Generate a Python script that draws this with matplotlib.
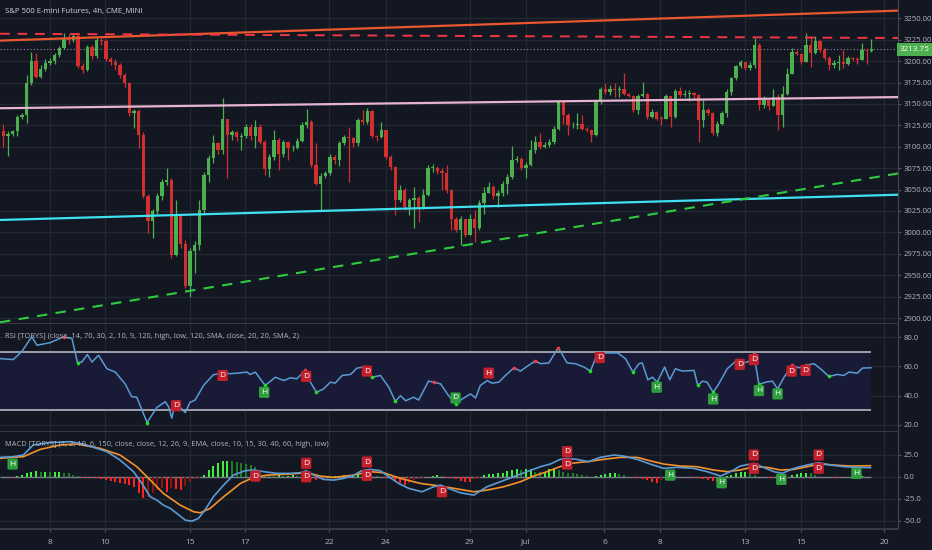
import numpy as np
import matplotlib
matplotlib.use("Agg")
import matplotlib.pyplot as plt
import matplotlib.transforms as mtransforms

plt.rcParams['font.family'] = ['Open Sans', 'DejaVu Sans']

# colours (TradingView dark)
BG = '#131722'
GRID = '#242833'
TXT = '#b2b5be'
UP = '#4caf50'
DOWN = '#d32f2f'

# ---- price data (4h bars), open = previous close
first_open = 3118
closes = [
    3112, 3115, 3118, 3135, 3137, 3174, 3200, 3182, 3191, 3198,
    3200, 3207, 3215, 3227, 3225, 3229, 3194, 3190, 3217, 3206,
    3225, 3223, 3203, 3199, 3196, 3184, 3174, 3139, 3142, 3114,
    3042, 3013, 3025, 3042, 3059, 3061, 2974, 3022, 2987, 2937,
    2978, 2985, 3026, 3067, 3087, 3104, 3096, 3132, 3114, 3117,
    3111, 3113, 3123, 3112, 3123, 3106, 3074, 3088, 3108, 3092,
    3105, 3098, 3099, 3107, 3125, 3129, 3079, 3057, 3066, 3069,
    3088, 3084, 3104, 3111, 3110, 3104, 3131, 3129, 3142, 3112,
    3111, 3120, 3088, 3076, 3038, 3050, 3030, 3038, 3040, 3030,
    3044, 3075, 3075.5, 3072, 3069, 3050, 3016, 3003, 3016, 2997,
    3016, 3005, 3034, 3046, 3053, 3042, 3046, 3057, 3065, 3085,
    3086, 3075, 3079, 3096, 3106, 3100, 3102, 3106, 3121, 3153,
    3137, 3125, 3125.5, 3127, 3121, 3119, 3114, 3153, 3167, 3164,
    3167, 3166, 3168, 3162, 3159, 3143, 3159, 3162, 3135, 3141,
    3133, 3132.5, 3159, 3135, 3165, 3160, 3162, 3163, 3160, 3131,
    3143, 3139, 3116, 3127, 3139, 3164, 3180, 3194, 3199, 3192,
    3196, 3219, 3149, 3155, 3148, 3158, 3137, 3162, 3185, 3211,
    3208, 3199, 3219, 3209, 3223, 3213, 3204, 3196, 3198, 3199,
    3197, 3204, 3202, 3201, 3213, 3212, 3213.75,
]
highs = [
    3126, 3118, 3120, 3137, 3140, 3184, 3211, 3209, 3195, 3202,
    3204, 3210, 3218, 3233, 3232, 3233, 3233, 3198, 3219, 3219,
    3228, 3227, 3226, 3205, 3202, 3198, 3186, 3176, 3144, 3144,
    3117, 3045, 3027, 3046, 3062, 3075, 3063, 3038, 3022, 2991,
    2982, 2990, 3038, 3070, 3090, 3114, 3106, 3157, 3133, 3120,
    3118, 3116, 3127, 3126, 3131, 3126, 3108, 3091, 3120, 3110,
    3108, 3107, 3102, 3110, 3129, 3144, 3131, 3104, 3069, 3072,
    3092, 3090, 3107, 3114, 3123, 3111, 3134, 3143, 3145, 3143,
    3114, 3129, 3120, 3090, 3078, 3055, 3052, 3040, 3053, 3042,
    3051, 3079, 3080, 3077, 3075, 3079, 3051, 3018, 3019, 3016,
    3022, 3026, 3038, 3053, 3059, 3055, 3049, 3060, 3068, 3101,
    3089, 3088, 3082, 3108, 3112, 3116, 3106, 3109, 3124, 3155,
    3155, 3139, 3129, 3139, 3137, 3123, 3121, 3155, 3170, 3174,
    3172, 3174, 3171, 3186, 3163, 3160, 3162, 3176, 3163, 3144,
    3142, 3136, 3162, 3159, 3168, 3170, 3166, 3166, 3164, 3162,
    3155, 3145, 3141, 3130, 3142, 3167, 3182, 3196, 3201, 3199,
    3199, 3227, 3221, 3159, 3157, 3168, 3162, 3171, 3192, 3215,
    3213, 3210, 3233, 3229, 3229, 3225, 3215, 3206, 3201, 3207,
    3213, 3206, 3205, 3205, 3221, 3215, 3226,
]
lows = [
    3100, 3089, 3113, 3112, 3133, 3128, 3172, 3180, 3180, 3188,
    3195, 3197, 3205, 3214, 3220, 3222, 3192, 3186, 3188, 3203,
    3204, 3219, 3200, 3196, 3190, 3180, 3170, 3136, 3122, 3098,
    3040, 2999, 2993, 3022, 3038, 3055, 2970, 2972, 2982, 2935,
    2925, 2952, 2980, 3022, 3059, 3081, 3092, 3092, 3063, 3108,
    3107, 3096, 3110, 3108, 3098, 3103, 3067, 3065, 3085, 3073,
    3088, 3084, 3095, 3097, 3105, 3122, 3076, 3055, 3026, 3064,
    3067, 3080, 3077, 3102, 3059, 3100, 3101, 3126, 3126, 3110,
    3107, 3110, 3086, 3073, 3020, 3036, 3026, 3020, 3005, 3012,
    3027, 3042, 3071, 3068, 3049, 3046, 3003, 3000, 2985, 2995,
    2997, 2989, 3003, 3022, 3048, 3039, 3030, 3042, 3045, 3062,
    3082, 3073, 3063, 3077, 3093, 3097, 3099, 3100, 3103, 3119,
    3127, 3114, 3122, 3121, 3119, 3117, 3106, 3113, 3150, 3162,
    3161, 3158, 3158, 3160, 3158, 3141, 3138, 3158, 3133, 3134,
    3131, 3125, 3132, 3123, 3134, 3158, 3158, 3154, 3156, 3106,
    3123, 3137, 3114, 3112, 3125, 3135, 3160, 3178, 3192, 3190,
    3190, 3192, 3143, 3145, 3143, 3149, 3120, 3123, 3160, 3202,
    3207, 3197, 3199, 3193, 3208, 3211, 3201, 3190, 3192, 3190,
    3192, 3195, 3200, 3197, 3202, 3197, 3211,
]
last_price = 3213.75

# date ticks (bar positions)
tick_bars = [10, 21.8, 40, 51.8, 69.8, 81.9, 99.9, 111.9, 128.8, 140.8, 158.9, 170.9, 188.7]
tick_labels = ['8', '10', '15', '17', '22', '24', '29', 'Jul', '6', '8', '13', '15', '20']

# drawn trendlines: (bar start, price start, bar end, price end)
orange_trend = (-0.7, 3224.0, 191.9, 3259.0)
red_dashed = (-0.7, 3232.0, 191.9, 3227.0)
pink_line = (-0.7, 3145.0, 191.9, 3158.0)
cyan_line = (-0.7, 3014.5, 191.9, 3044.0)
green_dashed = (-0.7, 2895.0, 191.9, 3069.0)

# ---- RSI
rsi_bar = [-0.7, 2.1, 3.9, 6.1, 7.2, 10.0, 12.9, 14.7, 15.9, 16.8, 18.0, 19.0, 20.4, 22.2,
           24.0, 26.1, 27.5, 28.6, 30.8, 32.9, 34.7, 35.4, 36.1, 36.5, 37.9, 39.0, 40.0,
           41.1, 42.9, 45.0, 46.8, 48.6, 50.1, 52.2, 52.9, 54.0, 56.1, 58.3, 60.1, 61.5,
           62.9, 64.7, 65.8, 67.1, 68.6, 70.1, 71.1, 72.6, 74.4, 75.8, 77.2, 79.0, 80.8,
           82.6, 84.0, 85.1, 86.2, 87.9, 89.0, 91.1, 92.2, 93.7, 95.4, 96.9, 98.3, 100.1,
           101.2, 102.2, 103.7, 104.7, 106.2, 107.6, 109.4, 110.8, 112.2, 114.0, 115.1,
           116.9, 118.9, 120.8, 122.6, 124.4, 125.8, 127.3, 129.4, 131.6, 133.3, 134.9,
           136.2, 136.9, 138.1, 139.1, 140.1, 141.7, 142.8, 144.0, 145.5, 148.0, 148.8,
           149.8, 150.8, 152.1, 153.3, 155.1, 157.3, 158.7, 160.1, 160.8, 161.9, 163.4,
           164.8, 165.9, 167.3, 168.9, 170.5, 171.9, 173.7, 175.1, 176.9, 178.7, 180.1,
           181.2, 183.0, 184.1, 185.9]
rsi_val = [65.4, 64.7, 70.0, 80.4, 74.6, 76.3, 80.4, 79.3, 62.6, 63.0, 68.2, 63.0, 67.7, 58.4,
           56.1, 48.0, 39.2, 38.8, 21.4, 31.8, 35.7, 32.3, 24.4, 30.7, 31.8, 28.3, 35.3,
           36.9, 46.9, 54.3, 55.4, 55.0, 55.4, 56.1, 54.5, 56.1, 46.9, 52.6, 50.3, 52.2,
           51.5, 57.3, 49.2, 42.2, 44.5, 49.2, 48.5, 53.8, 54.5, 58.9, 59.6, 52.6, 53.8,
           45.7, 36.0, 39.9, 36.4, 38.8, 36.9, 49.9, 49.2, 48.0, 39.9, 34.1, 37.6, 41.1,
           38.3, 46.9, 50.3, 48.5, 49.2, 53.8, 59.1, 56.8, 60.0, 63.8, 61.9,
           62.4, 73.0, 62.4, 61.9, 59.6, 56.8, 68.9, 69.3, 69.3, 65.4, 56.1,
           61.9, 62.4, 50.8, 52.6, 49.2, 59.6, 50.8, 58.4, 56.8, 57.3, 46.9,
           49.9, 49.2, 42.2, 48.0, 58.4, 64.7, 62.4, 63.8, 68.9, 47.6, 49.2,
           49.9, 44.5, 52.6, 60.7, 59.1, 60.7, 61.9, 58.4, 53.1, 54.5, 53.8,
           56.1, 55.4, 58.9, 59.1]
rsi_red_dots = [12.9, 36.5, 46.8, 64.7, 77.2, 92.2, 109.4, 114.0, 118.9, 127.3, 157.3, 160.8, 168.9, 171.9]
rsi_green_dots = [15.9, 30.8, 56.1, 67.1, 79.0, 84.0, 96.9, 125.8, 134.9, 140.1, 148.8, 152.1, 161.9, 165.9, 176.9]
# divergence labels: bar, value, text, bullish?
rsi_tags = [(37.0, 33.0, 'D', False), (47.0, 53.8, 'D', False), (55.9, 42.2, 'H', True),
            (64.9, 53.1, 'D', False), (77.9, 56.8, 'D', False), (96.9, 38.3, 'D', True),
            (104.0, 55.4, 'H', False), (127.8, 66.1, 'D', False), (140.0, 45.7, 'H', True),
            (152.1, 37.6, 'H', True), (157.8, 61.4, 'D', False), (160.8, 64.7, 'D', False),
            (161.9, 43.4, 'H', True), (165.9, 41.1, 'H', True), (168.9, 56.8, 'D', False),
            (171.9, 57.3, 'D', False)]

# ---- MACD
macd_bar = [-0.7, 2.1, 4.3, 6.4, 10.0, 14.3, 17.2, 19.3, 22.2, 25.0, 27.9, 29.7, 31.5, 32.9,
            34.3, 35.8, 37.2, 39.0, 40.4, 41.8, 43.2, 45.0, 47.2, 49.3, 51.8, 53.6, 55.8,
            58.6, 61.5, 63.6, 64.9, 66.5, 68.6, 70.8, 72.9, 75.1, 76.8, 78.6, 80.8, 82.6,
            84.7, 86.9, 89.7, 92.2, 93.7, 95.4, 97.9, 100.8, 103.6, 106.5, 109.3, 112.2,
            115.1, 117.2, 119.3, 120.8, 122.9, 125.4, 127.9, 130.8, 132.9, 135.8, 138.6,
            141.5, 144.4, 147.9, 150.8, 153.7, 155.8, 157.9, 160.8, 162.9, 165.1, 166.9,
            169.4, 172.2, 174.7, 177.2, 180.1, 183.0, 185.8]
macd_val = [22.1, 22.9, 24.8, 36.2, 38.9, 40.0, 37.3, 33.5, 28.6, 19.1, 5.8, -7.6, -22.8, -26.6,
            -32.3, -36.1, -41.8, -49.4, -50.6, -47.5, -38.0, -22.8, -9.5, 1.9, 6.9, 7.7, 5.8,
            3.9, 3.9, 4.6, 6.9, 1.9, -3.0, -3.8, -1.9, 1.9, 6.9, 8.4, 6.9, 0.0,
            -7.6, -13.3, -17.1, -11.4, -9.5, -13.3, -18.2, -20.9, -11.4, -5.7, 0.0, 5.8,
            11.5, 14.5, 19.8, 21.0, 19.8, 17.2, 22.1, 24.8, 23.6, 19.8, 14.5,
            9.6, 10.7, 9.6, 5.8, 0.8, 5.8, 12.2, 15.3, 10.7, 5.8, 3.9,
            9.6, 13.4, 16.0, 13.4, 11.5, 10.7, 10.3]
signal_bar = [-0.7, 4.3, 7.9, 12.2, 15.7, 20.7, 25.0, 28.6, 31.5, 34.3, 37.9, 40.8, 42.2, 44.3,
              47.2, 50.8, 53.6, 56.5, 61.5, 65.1, 67.9, 70.8, 75.1, 78.6, 81.5, 85.1, 89.4,
              93.7, 97.9, 100.8, 103.6, 107.2, 110.8, 113.6, 116.5, 119.3, 121.5, 125.1,
              128.6, 132.2, 135.8, 138.6, 141.5, 145.1, 148.6, 152.2, 155.1, 157.9, 160.8,
              163.7, 166.5, 169.4, 172.2, 175.1, 177.9, 181.5, 185.8]
signal_val = [21.0, 22.9, 31.2, 36.2, 37.3, 32.4, 24.8, 11.5, -3.8, -19.0, -32.3, -39.9, -41.0, -36.1,
              -22.8, -7.6, -0.7, 1.9, 3.1, 4.6, 0.8, -0.7, 1.9, 5.8, 4.6, -1.9, -7.6,
              -10.6, -14.4, -17.1, -15.2, -11.4, -5.7, 0.8, 5.8, 11.5, 15.3, 17.2,
              19.8, 22.1, 22.1, 18.2, 14.5, 12.2, 11.5, 7.7, 5.8, 7.7, 11.5,
              10.7, 7.7, 8.4, 11.5, 14.5, 13.4, 12.2, 12.6]
hist = [
    0.3, 0.0, -1.0, 0.5, 1.9, 3.8, 5.7, 6.8, 5.7, 5.7,
    4.9, 4.9, 4.9, 4.6, 3.8, 2.5, 0.5, -1.1, -1.1, -1.9,
    -1.9, -3.0, -3.8, -4.6, -5.7, -7.6, -8.4, -9.5, -11.4, -19.0,
    -24.7, -23.6, -19.0, -15.2, -13.3, -17.1, -13.3, -14.5, -15.2, -10.7,
    -5.7, -3.0, -1.0, 1.9, 7.6, 12.2, 16.0, 18.3, 18.3, 17.5,
    16.7, 15.2, 14.5, 13.3, 10.7, 5.0, 2.0, 1.5, 1.0, 1.5,
    1.0, 1.2, 1.5, 1.0, 0.5, -1.9, -3.0, -3.8, -2.5, -1.5,
    -0.5, 0.5, 1.0, 1.5, 2.0, 2.5, 3.0, 3.2, 2.5, 1.0,
    0.5, -0.5, -1.1, -3.0, -5.7, -7.6, -9.5, -6.8, -4.0, -2.0,
    -1.0, -0.5, 0.5, 1.5, 0.5, -1.1, -1.9, -3.0, -4.6, -5.7,
    -5.7, -3.0, -1.5, 1.9, 2.7, 3.0, 3.8, 4.6, 6.8, 7.6,
    8.4, 7.5, 8.4, 8.4, 6.0, 5.5, 6.0, 8.4, 9.5, 7.6,
    5.7, 4.6, 3.8, 3.0, 2.0, 1.0, -0.8, 0.5, 1.9, 3.0,
    3.8, 3.8, 3.0, 1.9, -0.8, -1.1, -1.9, -3.0, -3.8, -5.7,
    -6.8, -3.8, -1.0, 0.3, 0.5, -0.3, -0.5, -0.8, -1.1, -1.9,
    -3.0, -3.8, -4.6, -5.7, -2.0, 0.5, 1.9, 4.6, 5.7, 5.7,
    4.6, 2.0, -0.5, -0.8, -1.1, -1.9, -3.0, -3.8, -1.0, 1.9,
    3.0, 3.8, 4.6, 3.8, 2.0, -0.5, -0.8, -0.8, -1.1, -1.1,
    -0.8, -0.5, 0.5, -0.5, 0.4, -0.4, -0.3,
]
macd_tags = [(2.0, 14.5, 'H', True), (54.0, 0.8, 'D', False), (64.9, 15.3, 'D', False),
             (64.9, 0.0, 'D', False), (77.9, 16.8, 'D', False), (77.9, 1.6, 'D', False),
             (94.0, -17.1, 'D', False), (120.8, 28.6, 'D', False), (120.8, 14.5, 'D', False),
             (142.9, 1.9, 'H', True), (153.9, -6.8, 'H', True), (160.8, 24.8, 'D', False),
             (160.8, 9.6, 'D', False), (166.7, -3.0, 'H', True), (174.7, 24.8, 'D', False),
             (174.7, 9.6, 'D', False), (182.8, 3.8, 'H', True)]

# ---------------------------------------------------------------
W, H = 932, 550
fig = plt.figure(figsize=(W / 100, H / 100), dpi=100, facecolor=BG)
right = 898 / W
ax = fig.add_axes([0, 1 - 324 / H, right, 324 / H])
ax_rsi = fig.add_axes([0, 1 - 432 / H, right, 108 / H])
ax_macd = fig.add_axes([0, 1 - 529 / H, right, 97 / H])

x_lo, x_hi = -0.71, 191.7
for a in (ax, ax_rsi, ax_macd):
    a.set_facecolor(BG)
    a.set_xlim(x_lo, x_hi)
    a.set_xticks(tick_bars)
    a.yaxis.tick_right()
    a.tick_params(axis='both', length=2, width=0.8, color='#505460', labelsize=5.6, colors=TXT, pad=2)
    a.tick_params(axis='both', color='#505460')
    a.grid(True, color=GRID, linewidth=0.9)
    a.set_axisbelow(True)
    for s in ('top', 'left'):
        a.spines[s].set_visible(False)
    a.spines['right'].set_color('#434651')
    a.spines['bottom'].set_color('#363a45')
    a.spines['bottom'].set_linewidth(1.5)
ax.tick_params(axis='x', labelbottom=False, length=0)
ax_rsi.tick_params(axis='x', labelbottom=False, length=0)
ax_macd.set_xticklabels(tick_labels)
ax_macd.tick_params(axis='x', pad=5, labelsize=6)

# ---- main candles
c = np.array(closes, dtype=float)
o = np.concatenate([[first_open], c[:-1]])
hi = np.maximum(np.array(highs, dtype=float), np.maximum(o, c))
lo = np.minimum(np.array(lows, dtype=float), np.minimum(o, c))
idx = np.arange(len(c))
cols = np.where(c >= o, UP, DOWN)
ax.vlines(idx, lo, hi, colors=cols, linewidth=0.9, zorder=3)
body = np.maximum(np.abs(c - o), 0.8)
ax.bar(idx, body, bottom=np.minimum(o, c), width=0.68, color=cols, linewidth=0, zorder=4)

ax.set_ylim(2893, 3271.4)
ax.set_yticks(np.arange(2900, 3251, 25))
ax.set_yticklabels([f'{v:.2f}' for v in np.arange(2900, 3251, 25)])

def seg(a, line, **kw):
    a.plot([line[0], line[2]], [line[1], line[3]], **kw)

seg(ax, orange_trend, color='#e8572e', linewidth=1.6, zorder=5)
seg(ax, red_dashed, color='#f23645', linewidth=1.4, linestyle=(0, (5, 4)), zorder=5)
seg(ax, pink_line, color='#e6b3d3', linewidth=1.6, zorder=5)
seg(ax, cyan_line, color='#3fe0f0', linewidth=1.6, zorder=5)
seg(ax, green_dashed, color='#2ecc40', linewidth=1.5, linestyle=(0, (5, 4)), zorder=5)
ax.axhline(last_price, color='#9598a1', linewidth=0.8, linestyle=(0, (1, 2)), zorder=2)

ax.text(1.002, last_price, f'{last_price:.2f}', transform=mtransforms.blended_transform_factory(ax.transAxes, ax.transData),
        ha='left', va='center', fontsize=5.8, color='white', zorder=10, clip_on=False,
        bbox=dict(boxstyle='square,pad=0.4', fc=UP, ec='none'))
fig.text(5 / W, 1 - 12 / H, 'S&P 500 E-mini Futures, 4h, CME_MINI', fontsize=5.6, color='#d1d4dc', va='center')

# ---- RSI panel
last_bar = idx[-1]
ax_rsi.set_ylim(14.9, 89.2)
ax_rsi.set_yticks([20, 40, 60, 80])
ax_rsi.set_yticklabels(['20.0', '40.0', '60.0', '80.0'])
ax_rsi.fill_between([x_lo, last_bar], 30, 70, color='#191a35', zorder=1, linewidth=0)
ax_rsi.hlines([30, 70], x_lo, last_bar, colors='#c3c5cc', linewidth=1.1, zorder=2)
ax_rsi.plot(rsi_bar, rsi_val, color='#5b9bd5', linewidth=1.1, zorder=4)
ax_rsi.scatter(rsi_red_dots, np.interp(rsi_red_dots, rsi_bar, rsi_val), s=7, color='#f23645', zorder=5, linewidths=0)
ax_rsi.scatter(rsi_green_dots, np.interp(rsi_green_dots, rsi_bar, rsi_val), s=7, color='#22dd22', zorder=5, linewidths=0)
fig.text(5 / W, 1 - 337 / H, 'RSI [TORYS] (close, 14, 70, 30, 2, 10, 9, 120, high, low, 120, SMA, close, 20, 20, SMA, 2)',
         fontsize=5.4, color=TXT, va='center')

def tag(a, x, y, txt, bull):
    a.text(x, y, txt, ha='center', va='center', fontsize=6, color='white', zorder=8,
           bbox=dict(boxstyle='round,pad=0.25,rounding_size=0.15', fc='#2e9e3e' if bull else '#c2202c', ec='none'))

for x, y, t, b in rsi_tags:
    tag(ax_rsi, x, y, t, b)

# ---- MACD panel
ax_macd.set_ylim(-59.5, 51.0)
ax_macd.set_yticks([-50, -25, 0, 25])
ax_macd.set_yticklabels(['-50.0', '-25.0', '0.0', '25.0'])
hv = np.array(hist)
prev = np.concatenate([[0], hv[:-1]])
hcols = np.where(hv >= 0, np.where(hv >= prev, '#3cf03c', '#1f7a2a'),
                 np.where(hv <= prev, '#ff2020', '#8a1414'))
ax_macd.hlines(0, x_lo, last_bar, colors='#787b86', linewidth=1.0, zorder=2)
ax_macd.bar(idx, hv, width=0.45, color=hcols, linewidth=0, zorder=3)
ax_macd.plot(signal_bar, signal_val, color='#f5922a', linewidth=1.2, zorder=4)
ax_macd.plot(macd_bar, macd_val, color='#5b9bd5', linewidth=1.2, zorder=5)
for x, y, t, b in macd_tags:
    tag(ax_macd, x, y, t, b)
fig.text(5 / W, 1 - 444 / H, 'MACD [TORYS] (4, 2, 10, 6, 150, close, close, 12, 26, 9, EMA, close, 10, 15, 30, 40, 60, high, low)',
         fontsize=5.4, color=TXT, va='center')

fig.savefig('out.png', dpi=100, facecolor=BG)
